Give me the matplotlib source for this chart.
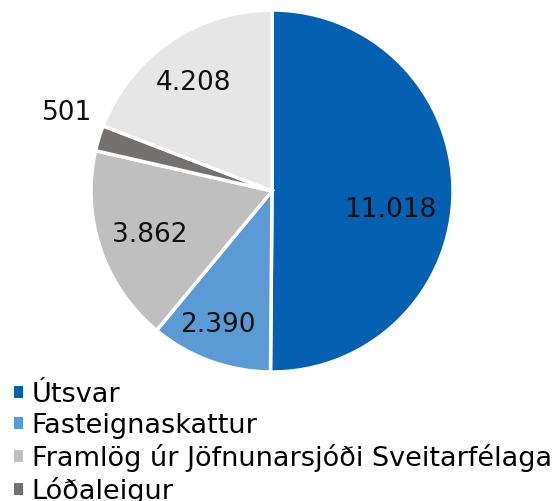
import matplotlib.pyplot as plt
from matplotlib.patches import Patch
import numpy as np

categories = ["Útsvar", "Fasteignaskattur", "Framlög úr Jöfnunarsjóði Sveitarfélaga",
              "Lóðaleigur", "Aðrar tekjur"]
values = [11018, 2390, 3862, 501, 4208]
value_labels = ["11.018", "2.390", "3.862", "501", "4.208"]
colors = ["#0461B1", "#5B9BD5", "#BFBFBF", "#767171", "#E6E6E6"]
# where each value label sits: fraction of radius, angle shift in degrees
label_dist = [0.66, 0.80, 0.72, 1.21, 0.74]
label_shift = [-9, -2, 1, -4, 1.5]

plt.rcParams['font.family'] = ['DejaVu Sans']

fig = plt.figure(figsize=(5.56, 5.01), dpi=100)
ax = fig.add_axes([91 / 556, 129 / 501, 362 / 556, 362 / 501])

wedges, _ = ax.pie(values, colors=colors, startangle=90, counterclock=False,
                   wedgeprops=dict(edgecolor="white", linewidth=2.5))
ax.set_xlim(-1, 1)
ax.set_ylim(-1, 1)

for w, lab, d, s in zip(wedges, value_labels, label_dist, label_shift):
    ang = np.deg2rad((w.theta1 + w.theta2) / 2 + s)
    ax.text(d * np.cos(ang), d * np.sin(ang), lab, ha="center", va="center",
            fontsize=19, color="#111111")

handles = [Patch(facecolor=c, edgecolor="none") for c in colors[:4]]
fig.legend(handles, categories[:4], loc="upper left",
           bbox_to_anchor=(14 / 556, 1 - 382 / 501), frameon=False,
           fontsize=19.5, handlelength=0.33, handleheight=0.33,
           handletextpad=0.33, labelspacing=0.18, borderaxespad=0,
           borderpad=0)

fig.savefig("out.png", dpi=100)
